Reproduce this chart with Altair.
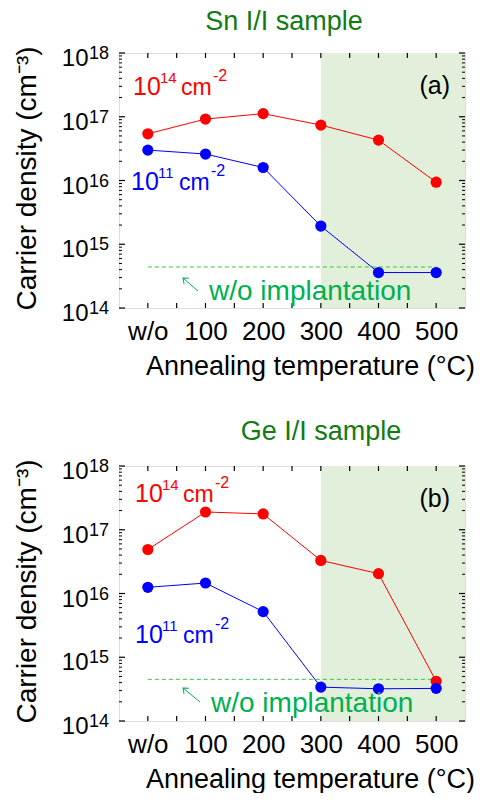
import altair as alt
import pandas as pd

# ---------------- data ----------------
temps = [0, 100, 200, 300, 400, 500]
temp_labels = ["w/o", "100", "200", "300", "400", "500"]
sn_high = [5.4e16, 9.2e16, 1.12e17, 7.4e16, 4.3e16, 9.4e15]
sn_low = [3.0e16, 2.6e16, 1.6e16, 1.93e15, 3.6e14, 3.6e14]
ge_high = [4.9e16, 1.9e17, 1.77e17, 3.3e16, 2.05e16, 4.2e14]
ge_low = [1.25e16, 1.46e16, 5.2e15, 3.4e14, 3.2e14, 3.25e14]
sn_ref = [4.4e14]
ge_ref = [4.5e14]
series = ["1e14", "1e11"]
decades = [14, 15, 16, 17, 18]
x_domain = [-50, 550]
y_domain = [1e14, 1e18]
anneal_region = [300, 550]
x_tick_values = [0, 50, 100, 150, 200, 250, 300, 350, 400, 450, 500]
panel_titles = ["Sn I/I sample", "Ge I/I sample"]
panel_letters = ["(a)", "(b)"]
dose_high_text = ["10", "14", "cm", "-2"]
dose_low_text = ["10", "11", "cm", "-2"]
ref_text = ["w/o implantation"]
x_title = "Annealing temperature (°C)"
y_title = "Carrier density (cm⁻³)"

FONT = "Liberation Sans"
W, H = 346, 255
RED, BLUE = "#ff0000", "#0000ff"
GREEN_TXT = "#00b050"
GREEN_DASH = "#33cc33"
TITLE_GREEN = "#137a13"
SHADE = "#e2efda"

major_y = [10.0 ** d for d in decades]
minor_y = [k * 10.0 ** d for d in decades[:-1] for k in range(2, 10)]

label_expr = "[" + ",".join("'%s'" % s for s in temp_labels) + "][indexof([" + \
    ",".join(str(t) for t in temps) + "], datum.value)]"

xs = alt.Scale(domain=x_domain, nice=False, zero=False)
ys = alt.Scale(type="log", domain=y_domain, nice=False)

X = alt.X("t:Q", scale=xs, axis=alt.Axis(
    values=temps, labelExpr=label_expr, ticks=False, tickSize=0, domain=False,
    grid=False, labelFontSize=26, labelPadding=10, labelColor="black",
    labelFont=FONT, title=x_title, titleFont=FONT, titleFontSize=27,
    titleFontWeight="normal", titleColor="black", titleX=191, titleY=66,
    titleBaseline="alphabetic", titleAlign="center"))
Y = alt.Y("v:Q", scale=ys, axis=alt.Axis(
    values=major_y, labelExpr="'10'", ticks=False, tickSize=0, domain=False,
    grid=False, labelFontSize=24, labelPadding=31, labelOffset=5.5,
    labelOverlap=False, labelFlush=False, labelColor="black", labelFont=FONT,
    labelAlign="right", labelBaseline="middle",
    title=y_title, titleFont=FONT, titleFontSize=28, titleFontWeight="normal",
    titleColor="black", titleX=-92, titleY=125, titleAngle=270,
    titleBaseline="middle", titleAlign="center"))


def txt(s, x, y, size, color, align="left", baseline="alphabetic"):
    return alt.Chart(pd.DataFrame({"s": [s]})).mark_text(
        align=align, baseline=baseline, fontSize=size, color=color, font=FONT
    ).encode(text="s:N", x=alt.value(x), y=alt.value(y))


def dose_label(parts, x, y, color):
    return [
        txt(parts[0], x, y, 25, color),
        txt(parts[1], x + 27, y - 12, 15, color),
        txt(parts[2], x + 48, y, 23, color),
        txt(parts[3], x + 80, y - 14, 16, color),
    ]


def panel(high, low, ref, title, letter, title_pos, red_pos, blue_pos,
          arrow, ref_pos):
    df = pd.DataFrame({"t": temps * 2, "v": high + low,
                       "s": [series[0]] * len(temps) + [series[1]] * len(temps)})
    color = alt.Color("s:N", scale=alt.Scale(domain=series, range=[RED, BLUE]),
                      legend=None)
    shade = alt.Chart(pd.DataFrame({"t": [anneal_region[0]], "t2": [anneal_region[1]],
                                    "v": [y_domain[0]], "v2": [y_domain[1]]})
                      ).mark_rect(color=SHADE).encode(x=X, x2="t2", y=Y, y2="v2")
    ref_line = alt.Chart(pd.DataFrame({"t": [temps[0]], "t2": [temps[-1]], "v": ref})
                         ).mark_rule(color=GREEN_DASH, strokeDash=[4, 3], strokeWidth=1
                                     ).encode(x=X, x2="t2", y=Y)
    lines = alt.Chart(df).mark_line(strokeWidth=1).encode(x=X, y=Y, color=color,
                                                          detail="s:N")
    pts = alt.Chart(df).mark_circle(size=125, opacity=1).encode(x=X, y=Y, color=color)

    ymaj = pd.DataFrame({"v": major_y})
    ymin = pd.DataFrame({"v": minor_y})
    xt = pd.DataFrame({"t": x_tick_values})
    ticks = [
        alt.Chart(ymaj).mark_rule(color="black", strokeWidth=1.2).encode(
            y=Y, x=alt.value(0), x2=alt.value(6)),
        alt.Chart(ymaj).mark_rule(color="black", strokeWidth=1.2).encode(
            y=Y, x=alt.value(W - 6), x2=alt.value(W)),
        alt.Chart(ymin).mark_rule(color="black", strokeWidth=1).encode(
            y=Y, x=alt.value(0), x2=alt.value(3)),
        alt.Chart(ymin).mark_rule(color="black", strokeWidth=1).encode(
            y=Y, x=alt.value(W - 3), x2=alt.value(W)),
        alt.Chart(xt).mark_rule(color="black", strokeWidth=1.2).encode(
            x=X, y=alt.value(H - 5), y2=alt.value(H)),
        alt.Chart(xt).mark_rule(color="black", strokeWidth=1.2).encode(
            x=X, y=alt.value(0), y2=alt.value(5)),
    ]
    exps = alt.Chart(pd.DataFrame({"v": major_y, "e": [str(d) for d in decades]})
                     ).mark_text(align="left", baseline="middle", fontSize=18,
                                 dy=1, color="black", font=FONT
                                 ).encode(y=Y, x=alt.value(-30), text="e:N")

    (hx, hy), (tx, ty) = arrow
    arrow_line = alt.Chart(pd.DataFrame({"s": [ref_text[0]]})).mark_rule(
        color=GREEN_TXT, strokeWidth=1).encode(
        x=alt.value(hx), x2=alt.value(tx), y=alt.value(hy), y2=alt.value(ty))
    arrow_head = alt.Chart(pd.DataFrame({"s": [ref_text[0]]})).mark_point(
        shape="M -0.6 0.75 L 0 0 L 0.6 0.75", filled=False, size=150, angle=311,
        strokeWidth=1, color=GREEN_TXT, opacity=1).encode(
        x=alt.value(hx), y=alt.value(hy))

    texts = (dose_label(dose_high_text, red_pos[0], red_pos[1], RED)
             + dose_label(dose_low_text, blue_pos[0], blue_pos[1], BLUE)
             + [txt(letter, 331, 41, 25, "black", align="right"),
                txt(ref_text[0], ref_pos[0], ref_pos[1], 28, GREEN_TXT),
                txt(title, title_pos[0], title_pos[1], 27, TITLE_GREEN,
                    align="center")])

    return alt.layer(shade, ref_line, lines, pts, *ticks, exps, arrow_line,
                     arrow_head, *texts).properties(width=W, height=H)


pa = panel(sn_high, sn_low, sn_ref, panel_titles[0], panel_letters[0], (165, -23),
           (14, 42), (12, 137), ((64, 225), (79, 238)), (90, 247))
pb = panel(ge_high, ge_low, ge_ref, panel_titles[1], panel_letters[1], (202, -26),
           (16, 36), (16, 177), ((64, 222), (81, 236)), (92, 246))

chart = alt.vconcat(pa, pb, spacing=37).properties(
    padding={"left": 12, "top": 7, "right": 0, "bottom": 0}
).configure_view(stroke="black", strokeWidth=1.6).configure(font=FONT)

chart.save("out.html", embed_options={"renderer": "svg", "actions": False})
